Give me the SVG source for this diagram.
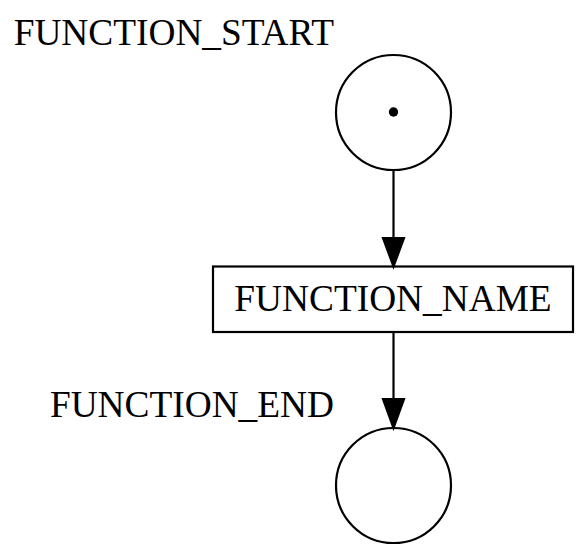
<svg xmlns="http://www.w3.org/2000/svg" width="584" height="554" viewBox="0 0 584 554">
<style>
  .shape { fill: #ffffff; stroke: #000000; stroke-width: 2.2; }
  .edge { stroke: #000000; stroke-width: 2.2; fill: none; }
  .head { fill: #000000; stroke: #000000; stroke-width: 2.2; }
  text { font-family: "Liberation Serif", "Times New Roman", serif; font-size: 37.33px; fill: #000000; }
</style>
<rect x="0" y="0" width="584" height="554" fill="#ffffff"/>
<g id="function_start">
  <circle class="shape" cx="393.5" cy="112.5" r="57.5"/>
  <circle cx="393.5" cy="112" r="4.7" fill="#000000"/>
  <text x="334" y="45" text-anchor="end">FUNCTION_START</text>
</g>
<g id="function_name">
  <rect class="shape" x="213" y="266.5" width="360" height="65.5"/>
  <text x="393" y="311" text-anchor="middle">FUNCTION_NAME</text>
</g>
<g id="function_end">
  <circle class="shape" cx="393.5" cy="485.5" r="57.5"/>
  <text x="334" y="416.5" text-anchor="end">FUNCTION_END</text>
</g>
<g id="connectors">
  <line class="edge" x1="393.5" y1="170" x2="393.5" y2="238"/>
  <polygon class="head" points="383,238 404,238 393.5,266.5"/>
  <line class="edge" x1="393.5" y1="332" x2="393.5" y2="399"/>
  <polygon class="head" points="383,399 404,399 393.5,428"/>
</g>
</svg>
